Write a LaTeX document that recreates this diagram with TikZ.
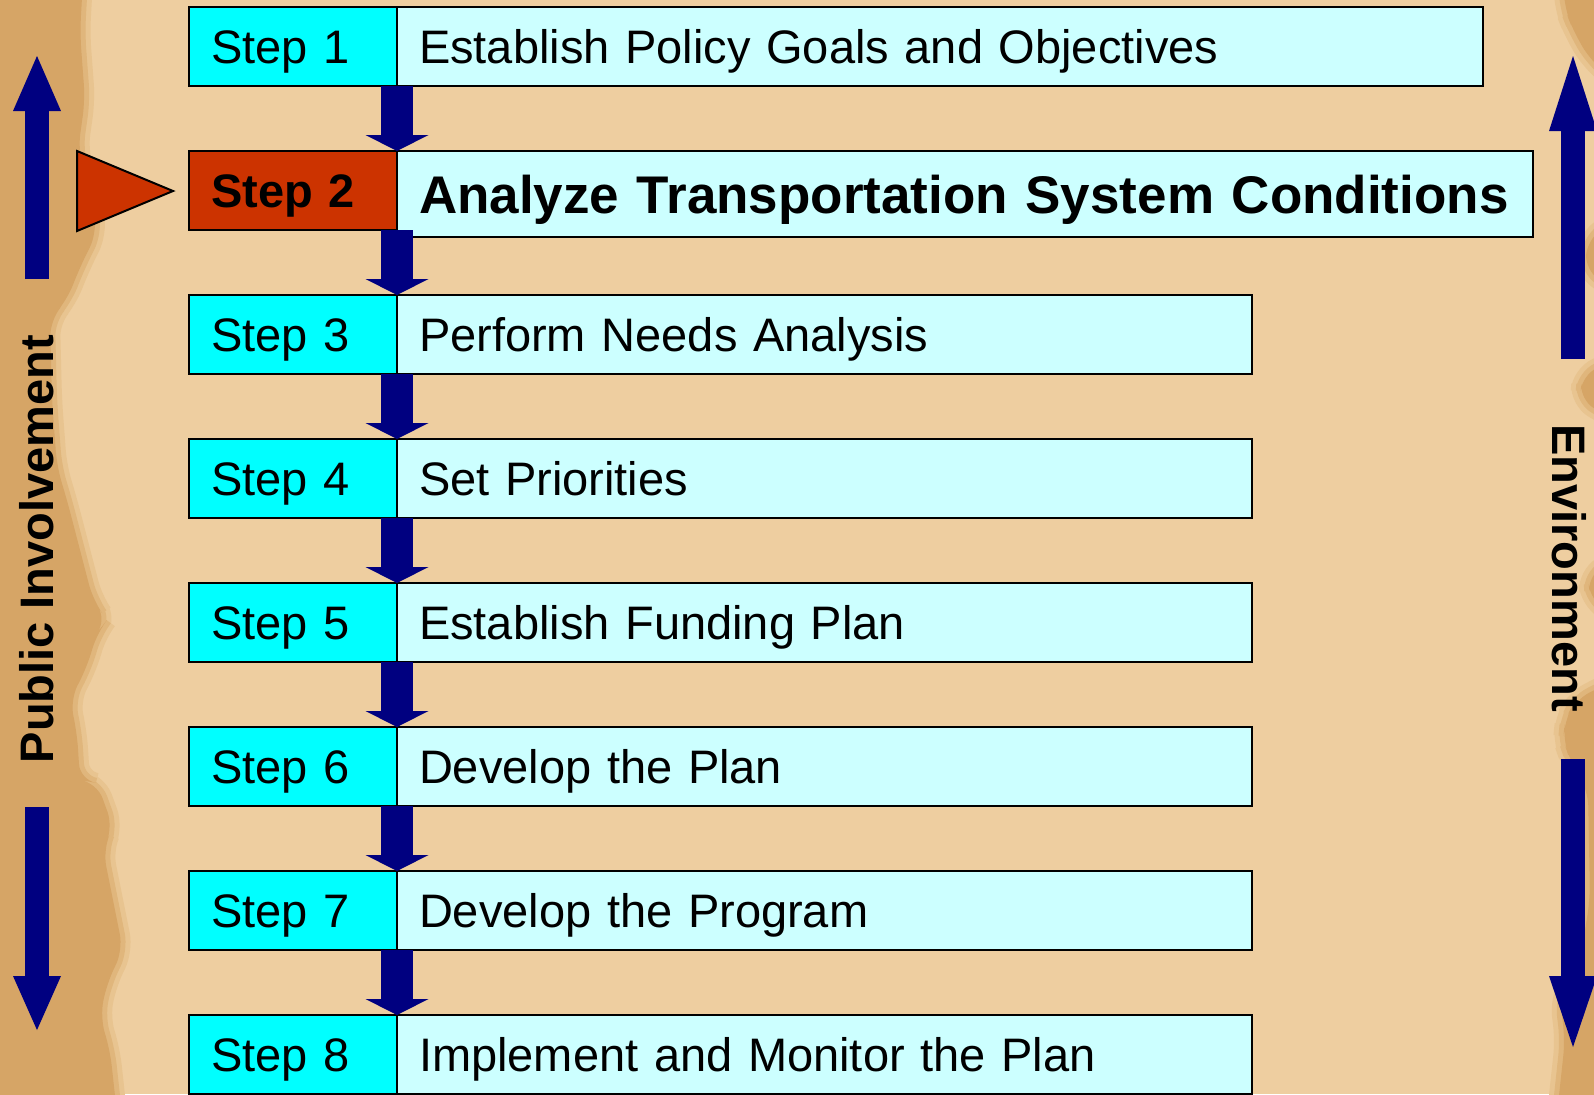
\documentclass[tikz,border=0pt]{standalone}
\usepackage{fontspec}
\setmainfont{Liberation Sans}
\usepackage{tikz}
\usetikzlibrary{arrows.meta}
\definecolor{parchment}{RGB}{238,206,160}
\definecolor{parchmentdark}{RGB}{214,165,102}
\definecolor{parchmentmid}{RGB}{224,182,124}
\definecolor{parchmentsoft}{RGB}{232,196,144}
\definecolor{stepcyan}{RGB}{0,255,255}
\definecolor{taskcyan}{RGB}{204,255,255}
\definecolor{stepred}{RGB}{204,51,0}
\definecolor{arrownavy}{RGB}{0,0,128}

\begin{document}
\begin{tikzpicture}[x=0.5pt,y=-0.5pt,
    stepbox/.style={draw=black,line width=1pt,fill=stepcyan,anchor=north west,outer sep=0pt,
      inner xsep=11pt,inner ysep=0pt,text width=82pt,align=left,minimum height=39.5pt,
      text height=17pt,text depth=0pt,font=\fontsize{23.5}{28}\selectfont},
    taskbox/.style={stepbox,fill=taskcyan},
    flowarrow/.style={draw=arrownavy,line width=16pt,
      -{Triangle[width=31.5pt,length=8pt,line width=0pt]}},
    sidearrow/.style={draw=arrownavy,line width=12pt,
      -{Triangle[width=24pt,length=#1,line width=0pt]}},
    sidelabel/.style={font=\bfseries\fontsize{23.5}{28}\selectfont,inner sep=0pt,
      text height=17pt,text depth=0pt},
    tornedge/.style={parchmentdark,rounded corners=8pt,
      preaction={draw=parchmentsoft,line width=10pt},
      preaction={draw=parchmentmid,line width=5pt}}]
  \useasboundingbox (0,0) rectangle (1594,1094);
  % parchment
  \fill[parchment] (0,0) rectangle (1594,1094);
  \fill[tornedge]
    (-20,-20) -- (83,-20) -- (80,33) -- (85,100) -- (78,150) -- (92,200) -- (97,233)
    -- (80,267) -- (67,300) -- (50,320) -- (52,400) -- (57,467) -- (67,500) -- (93,600)
    -- (107,620) -- (97,633) -- (87,667) -- (70,700) -- (77,733) -- (80,780) -- (97,783)
    -- (113,827) -- (103,850) -- (113,900) -- (123,950) -- (107,983) -- (100,1017)
    -- (110,1050) -- (117,1114) -- (-20,1114) -- cycle;
  \fill[tornedge]
    (1614,-20) -- (1563,-20) -- (1565,10) -- (1573,30) -- (1590,60) -- (1614,80)
    -- (1614,220) -- (1587,240) -- (1585,270) -- (1614,290) -- (1614,360) -- (1582,375)
    -- (1580,400) -- (1614,420) -- (1614,560) -- (1588,575) -- (1590,600) -- (1614,615)
    -- (1614,680) -- (1575,700) -- (1565,720) -- (1563,740) -- (1570,760) -- (1588,790)
    -- (1590,900) -- (1580,960) -- (1560,1000) -- (1565,1040) -- (1557,1114)
    -- (1614,1114) -- cycle;
  % steps
  \node[stepbox] (s1) at (189,7) {Step 1};
  \node[taskbox,text width=521pt] (t1) at (s1.north east) {Establish Policy Goals and Objectives};
  \node[stepbox,fill=stepred,font=\bfseries\fontsize{23.5}{28}\selectfont] (s2) at (189,151) {Step 2};
  \node[taskbox,text width=546pt,minimum height=43pt,text height=19pt,
    font=\bfseries\fontsize{26.5}{32}\selectfont] (t2) at (s2.north east) {Analyze Transportation System Conditions};
  \node[stepbox] (s3) at (189,295) {Step 3};
  \node[taskbox,text width=405.5pt] (t3) at (s3.north east) {Perform Needs Analysis};
  \node[stepbox] (s4) at (189,439) {Step 4};
  \node[taskbox,text width=405.5pt] (t4) at (s4.north east) {Set Priorities};
  \node[stepbox] (s5) at (189,583) {Step 5};
  \node[taskbox,text width=405.5pt] (t5) at (s5.north east) {Establish Funding Plan};
  \node[stepbox] (s6) at (189,727) {Step 6};
  \node[taskbox,text width=405.5pt] (t6) at (s6.north east) {Develop the Plan};
  \node[stepbox] (s7) at (189,871) {Step 7};
  \node[taskbox,text width=405.5pt] (t7) at (s7.north east) {Develop the Program};
  \node[stepbox] (s8) at (189,1015) {Step 8};
  \node[taskbox,text width=405.5pt] (t8) at (s8.north east) {Implement and Monitor the Plan};
  % flow
  \draw[flowarrow] (s1.south east) -- (s2.north east);
  \draw[flowarrow] (s2.south east) -- (s3.north east);
  \draw[flowarrow] (s3.south east) -- (s4.north east);
  \draw[flowarrow] (s4.south east) -- (s5.north east);
  \draw[flowarrow] (s5.south east) -- (s6.north east);
  \draw[flowarrow] (s6.south east) -- (s7.north east);
  \draw[flowarrow] (s7.south east) -- (s8.north east);
  % pointer at step 2
  \filldraw[fill=stepred,draw=black,line width=1pt] (77,151) -- (173,191) -- (77,231) -- cycle;
  % side arrows and labels
  \coordinate (lu0) at (37,279); \coordinate (lu1) at (37,56);
  \coordinate (ld0) at (37,807); \coordinate (ld1) at (37,1030);
  \coordinate (ru0) at (1573,359); \coordinate (ru1) at (1573,56);
  \coordinate (rd0) at (1573,759); \coordinate (rd1) at (1573,1047);
  \draw[sidearrow=27.5pt] (lu0) -- (lu1);
  \draw[sidearrow=27pt] (ld0) -- (ld1);
  \draw[sidearrow=37.5pt] (ru0) -- (ru1);
  \draw[sidearrow=35.5pt] (rd0) -- (rd1);
  \node[sidelabel,rotate=90] (pub) at (36,549) {Public Involvement};
  \node[sidelabel,rotate=-90] (env) at (1569,568) {Environment};
\end{tikzpicture}
\end{document}
